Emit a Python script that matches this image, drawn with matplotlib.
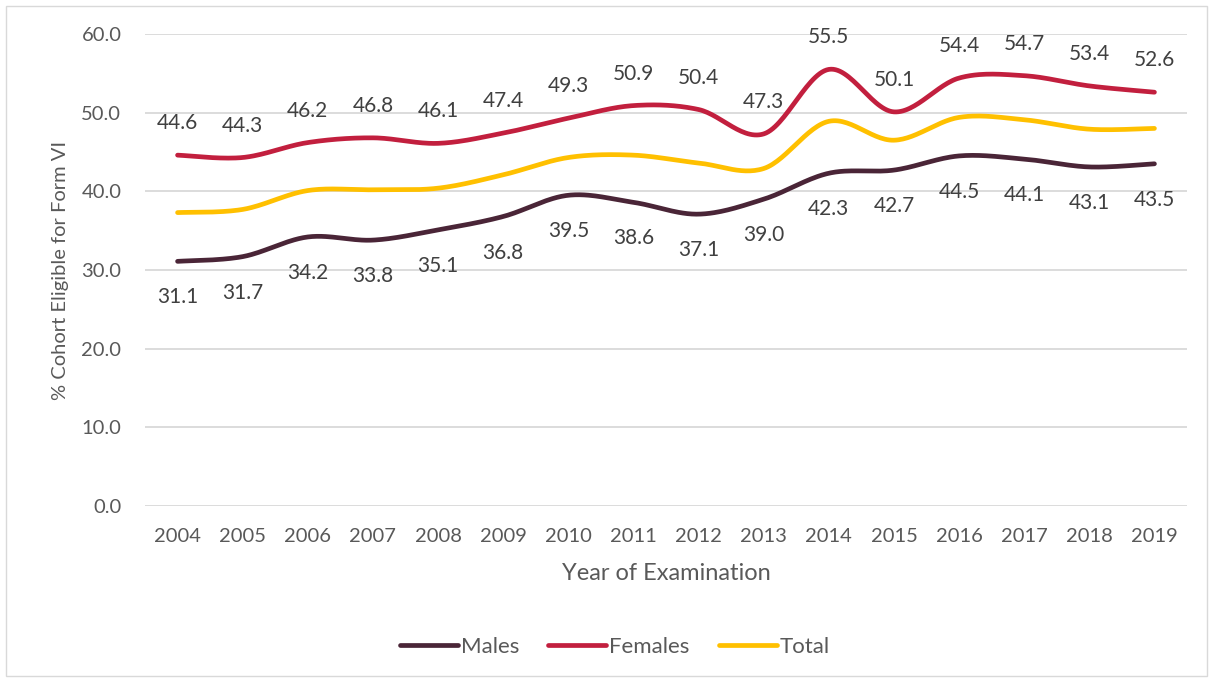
import numpy as np
import matplotlib
matplotlib.use("Agg")
import matplotlib.pyplot as plt
from matplotlib.patches import Rectangle

years = ["2004", "2005", "2006", "2007", "2008", "2009", "2010", "2011",
         "2012", "2013", "2014", "2015", "2016", "2017", "2018", "2019"]
males = [31.1, 31.7, 34.2, 33.8, 35.1, 36.8, 39.5, 38.6, 37.1, 39.0, 42.3, 42.7, 44.5, 44.1, 43.1, 43.5]
females = [44.6, 44.3, 46.2, 46.8, 46.1, 47.4, 49.3, 50.9, 50.4, 47.3, 55.5, 50.1, 54.4, 54.7, 53.4, 52.6]
total = [37.3, 37.7, 40.1, 40.2, 40.4, 42.1, 44.3, 44.6, 43.6, 42.9, 48.9, 46.5, 49.4, 49.1, 47.9, 48.0]

plt.rcParams['font.family'] = ['Lato', 'DejaVu Sans']

C_M = "#4A2537"
C_F = "#C21F3E"
C_T = "#FFC000"
TXT = "#595959"
LBL = "#404040"


def smooth(y, n=30):
    """Excel-style smoothed line: cubic Bezier with Catmull-Rom control points."""
    y = np.asarray(y, float)
    x = np.arange(len(y), dtype=float)
    P = np.column_stack([x, y])
    xs, ys = [], []
    for i in range(len(P) - 1):
        p0 = P[i - 1] if i > 0 else P[i]
        p1 = P[i]
        p2 = P[i + 1]
        p3 = P[i + 2] if i + 2 < len(P) else P[i + 1]
        c1 = p1 + (p2 - p0) / 6.0
        c2 = p2 - (p3 - p1) / 6.0
        t = np.linspace(0, 1, n)[:, None]
        b = ((1 - t) ** 3) * p1 + 3 * ((1 - t) ** 2) * t * c1 + 3 * (1 - t) * t ** 2 * c2 + t ** 3 * p2
        xs.append(b[:, 0]); ys.append(b[:, 1])
    return np.concatenate(xs), np.concatenate(ys)


fig = plt.figure(figsize=(12.13, 6.82), dpi=100)
ax = fig.add_axes([145 / 1213, 1 - 506 / 682, (1187 - 145) / 1213, (506 - 34) / 682])

for vals, col, name in [(males, C_M, "Males"), (females, C_F, "Females"), (total, C_T, "Total")]:
    sx, sy = smooth(vals)
    ax.plot(sx, sy, color=col, lw=3.4, solid_capstyle="round", label=name, zorder=3)

xpos = np.arange(len(years))
for i, v in enumerate(females):
    ax.annotate(f"{v:.1f}", (xpos[i], v), xytext=(0, 23), textcoords="offset points",
                ha="center", va="center", fontsize=15, color=LBL)
for i, v in enumerate(males):
    ax.annotate(f"{v:.1f}", (xpos[i], v), xytext=(0, -26), textcoords="offset points",
                ha="center", va="center", fontsize=15, color=LBL)

ax.set_xlim(-0.5, len(years) - 0.5)
ax.set_ylim(0, 60)
ax.set_yticks(np.arange(0, 61, 10))
ax.set_yticklabels([f"{v:.1f}" for v in np.arange(0, 61, 10)])
ax.set_xticks(xpos)
ax.set_xticklabels(years)
ax.tick_params(axis="both", length=0, labelsize=14.5, labelcolor=TXT)
ax.tick_params(axis="y", pad=17)
ax.tick_params(axis="x", pad=16)
ax.grid(axis="y", color="#D9D9D9", lw=1.3)
ax.set_axisbelow(True)
for s in ax.spines.values():
    s.set_visible(False)

ax.set_ylabel("% Cohort Eligible for Form VI", fontsize=14.5, color=TXT, labelpad=9)
ax.set_xlabel("Year of Examination", fontsize=17, color=TXT, labelpad=13)

leg = fig.legend(loc="center", bbox_to_anchor=(0.507, 1 - 647 / 682), ncol=3, frameon=False,
                 fontsize=16, handlelength=2.6, handletextpad=0.15, columnspacing=1.3)
for t in leg.get_texts():
    t.set_color(TXT)

fig.patches.append(Rectangle((6 / 1213, 6 / 682), 1201 / 1213, 670 / 682, transform=fig.transFigure,
                             fill=False, edgecolor="#D9D9D9", lw=1.0))

fig.savefig("out.png", dpi=100, facecolor="white")
